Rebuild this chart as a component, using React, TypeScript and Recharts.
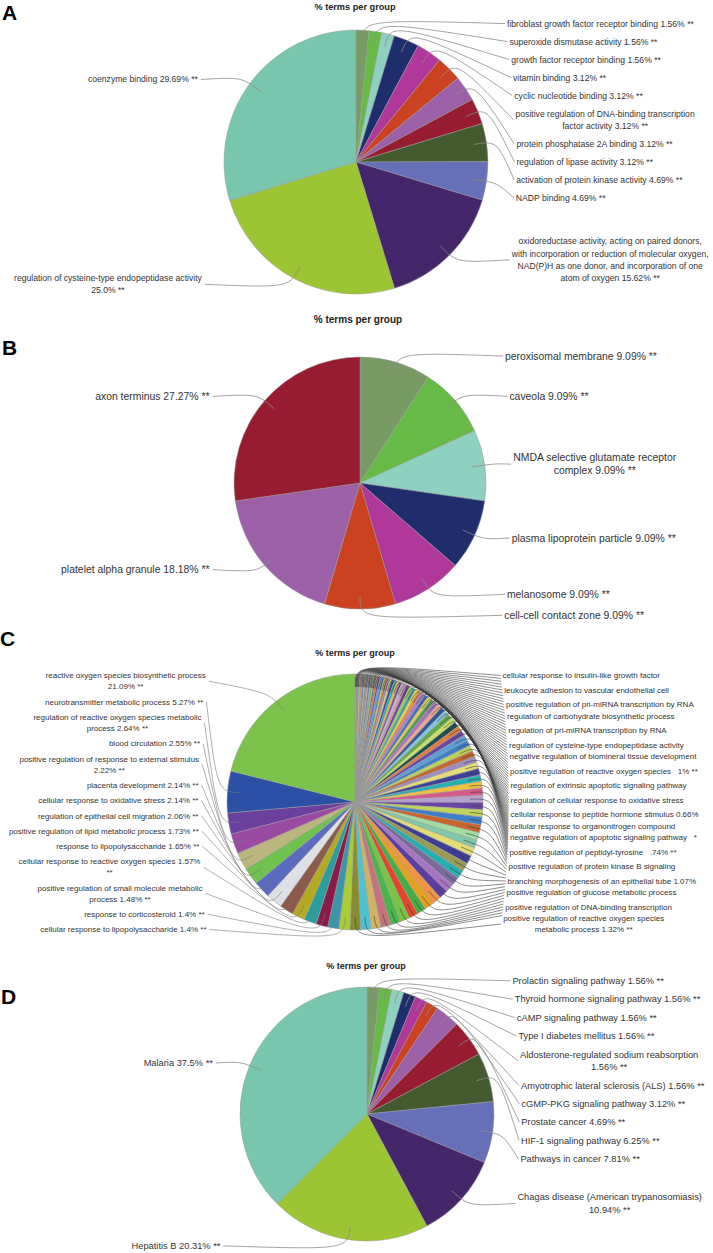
import React from 'react';
import { PieChart, Pie, Cell } from 'recharts';

const FONT = '"Liberation Sans", Arial, Helvetica, sans-serif';
const RAD = Math.PI / 180;

// ---- panel A: molecular function ----
const A_LABELS = [
  'fibroblast growth factor receptor binding 1.56% **',
  'superoxide dismutase activity 1.56% **',
  'growth factor receptor binding 1.56% **',
  'vitamin binding 3.12% **',
  'cyclic nucleotide binding 3.12% **',
  'positive regulation of DNA-binding transcription\nfactor activity 3.12% **',
  'protein phosphatase 2A binding 3.12% **',
  'regulation of lipase activity 3.12% **',
  'activation of protein kinase activity 4.69% **',
  'NADP binding 4.69% **',
  'oxidoreductase activity, acting on paired donors,\nwith incorporation or reduction of molecular oxygen,\nNAD(P)H as one donor, and incorporation of one\natom of oxygen 15.62% **',
  'regulation of cysteine-type endopeptidase activity\n25.0% **',
  'coenzyme binding 29.69% **',
];
const A_VALUES = [1.56, 1.56, 1.56, 3.12, 3.12, 3.12, 3.12, 3.12, 4.69, 4.69, 15.62, 25.0, 29.69];

// ---- panel B: cellular component ----
const B_LABELS = [
  'peroxisomal membrane 9.09% **',
  'caveola 9.09% **',
  'NMDA selective glutamate receptor\ncomplex 9.09% **',
  'plasma lipoprotein particle 9.09% **',
  'melanosome 9.09% **',
  'cell-cell contact zone 9.09% **',
  'platelet alpha granule 18.18% **',
  'axon terminus 27.27% **',
];
const B_VALUES = [9.09, 9.09, 9.09, 9.09, 9.09, 9.09, 18.18, 27.27];

// ---- panel C: biological process (right half = many small terms) ----
const C_RIGHT_VALUES = [
  0.08, 0.08, 0.08, 0.08, 0.08,
  0.16, 0.16, 0.16, 0.16, 0.16, 0.16, 0.16, 0.16, 0.16, 0.16, 0.16, 0.16, 0.16, 0.16,
  0.25, 0.25, 0.25, 0.25, 0.25, 0.25, 0.25, 0.25,
  0.33, 0.33, 0.33, 0.33, 0.33, 0.33,
  0.41, 0.41, 0.41, 0.41, 0.41,
  0.49, 0.49, 0.49, 0.49,
  0.58, 0.58, 0.58, 0.58,
  0.66, 0.66, 0.66, 0.66, 0.66,
  0.74, 0.74, 0.74, 0.74, 0.74,
  0.82, 0.82, 0.82, 0.82,
  0.91, 0.91, 0.91, 0.91,
  0.99, 0.99, 0.99, 0.99,
  1.07, 1.07, 1.07, 1.07, 1.07, 1.07,
  1.15, 1.15, 1.15, 1.15, 1.15,
  1.24, 1.24, 1.24, 1.24,
  1.32, 1.32,
];
// only these right-hand labels are readable in the figure (the rest overlap)
const C_RIGHT_VISIBLE: [number, string][] = [
  [0, 'cellular response to insulin-like growth factor'],
  [5, 'leukocyte adhesion to vascular endothelial cell'],
  [10, 'positive regulation of pri-miRNA transcription by RNA'],
  [14, 'regulation of carbohydrate biosynthetic process'],
  [19, 'regulation of pri-miRNA transcription by RNA'],
  [24, 'regulation of cysteine-type endopeptidase activity'],
  [28, 'negative regulation of biomineral tissue development'],
  [33, 'positive regulation of reactive oxygen species \u00a0\u00a01% **'],
  [38, 'regulation of extrinsic apoptotic signaling pathway'],
  [43, 'regulation of cellular response to oxidative stress'],
  [48, 'cellular response to peptide hormone stimulus 0.66%'],
  [52, 'cellular response to organonitrogen compound'],
  [56, 'negative regulation of apoptotic signaling pathway \u00a0\u00a0*'],
  [61, 'positive regulation of peptidyl-tyrosine \u00a0\u00a0.74% **'],
  [66, 'positive regulation of protein kinase B signaling'],
  [71, 'branching morphogenesis of an epithelial tube 1.07%'],
  [75, 'positive regulation of glucose metabolic process'],
  [80, 'positive regulation of DNA-binding transcription'],
  [84, 'positive regulation of reactive oxygen species\nmetabolic process 1.32% **'],
];
const C_LEFT_LABELS = [
  'cellular response to lipopolysaccharide 1.4% **',
  'response to corticosteroid 1.4% **',
  'positive regulation of small molecule metabolic\nprocess 1.48% **',
  'cellular response to reactive oxygen species 1.57%\n**',
  'response to lipopolysaccharide 1.65% **',
  'positive regulation of lipid metabolic process 1.73% **',
  'regulation of epithelial cell migration 2.06% **',
  'cellular response to oxidative stress 2.14% **',
  'placenta development 2.14% **',
  'positive regulation of response to external stimulus\n2.22% **',
  'blood circulation 2.55% **',
  'regulation of reactive oxygen species metabolic\nprocess 2.64% **',
  'neurotransmitter metabolic process 5.27% **',
  'reactive oxygen species biosynthetic process\n21.09% **',
];
const C_LEFT_VALUES = [1.4, 1.4, 1.48, 1.57, 1.65, 1.73, 2.06, 2.14, 2.14, 2.22, 2.55, 2.64, 5.27, 21.09];

// ---- panel D: KEGG ----
const D_LABELS = [
  'Prolactin signaling pathway 1.56% **',
  'Thyroid hormone signaling pathway 1.56% **',
  'cAMP signaling pathway 1.56% **',
  'Type I diabetes mellitus 1.56% **',
  'Aldosterone-regulated sodium reabsorption\n1.56% **',
  'Amyotrophic lateral sclerosis (ALS) 1.56% **',
  'cGMP-PKG signaling pathway 3.12% **',
  'Prostate cancer 4.69% **',
  'HIF-1 signaling pathway 6.25% **',
  'Pathways in cancer 7.81% **',
  'Chagas disease (American trypanosomiasis)\n10.94% **',
  'Hepatitis B 20.31% **',
  'Malaria 37.5% **',
];
const D_VALUES = [1.56, 1.56, 1.56, 1.56, 1.56, 1.56, 3.12, 4.69, 6.25, 7.81, 10.94, 20.31, 37.5];

// ClueGO group colours
const GROUP_COLORS = [
  '#789a64', '#67ba45', '#8fd1c1', '#1f2d6c', '#b0389a', '#cc4220', '#9b60a7',
  '#981c30', '#445a2f', '#6670b8', '#46266b', '#9bc532', '#78c6ae',
];
const C_TOP_COLORS = [
  '#8b4f9e', '#c9c0d8', '#e58fb0', '#6a3f98', '#9ccf5c', '#3ba7a0', '#e8d64c', '#e98a3c',
  '#b47ec6', '#4d6cc0', '#d9cd55', '#4f9b52', '#a874c2', '#f3a38f', '#2e5c9c', '#82c3e2',
  '#64aa45', '#c7df66', '#1e4e50', '#e27c3a', '#6b46a6', '#5aa0d8', '#3f80c8', '#bcd25a',
  '#c86530', '#9c8cc0', '#e6dc78', '#40409a', '#27b1b0', '#f0c040',
];
const C_LOW_COLORS = [
  '#d45a8a', '#b7a0d0', '#6a45a4', '#bfd45a', '#3e7fc7', '#c8642e', '#a3dba0', '#7fc8a8',
  '#e4dc74', '#3d3d96', '#9a9a52', '#24b0b0', '#7a6a9c', '#a874c4', '#5a3fa0', '#f09442',
  '#e6a21f', '#46ad46', '#e2452a', '#78c443', '#4bb54b', '#c7707e', '#d1b262', '#4cc2d2',
  '#8a8c34',
];
const C_LEFT_COLORS = [
  '#a9cb35', '#3a96a8', '#8b1a4a', '#2a9d9d', '#b3aa22', '#8c5a4a', '#dde1e5',
  '#5a6bc0', '#6fc150', '#bab67e', '#9a4aa2', '#6b3f9e', '#2b50a6', '#7dc24b',
];

const cRightNames = C_RIGHT_VALUES.map(() => '');
for (const [i, t] of C_RIGHT_VISIBLE) cRightNames[i] = t;

type PanelSpec = {
  top: number; height: number; cx: number; cy: number; r: number;
  values: number[]; labels: string[]; colors: string[];
  fs: number; lh: number; gap: number; bandTop: number; bandBottom: number;
  lineR: string; lineL: string; lineW: number;
};

type Slot = { y: number; h: number; right: boolean; lines: string[]; end: number };

let ctx: CanvasRenderingContext2D | null = null;
function textWidth(s: string, fs: number) {
  if (!ctx) ctx = document.createElement('canvas').getContext('2d');
  if (!ctx) return s.length * fs * 0.5;
  ctx.font = `${fs}px ${FONT}`;
  return ctx.measureText(s).width;
}

// stack labels in a column, pushing them apart; spread them if they can't fit
function distribute(list: Slot[], top: number, bottom: number, gap: number) {
  if (!list.length) return;
  let prev: Slot | null = null;
  for (const it of list) {
    const min = prev ? prev.y + prev.h / 2 + gap + it.h / 2 : top + it.h / 2;
    it.y = Math.max(it.y, min);
    prev = it;
  }
  const last = list[list.length - 1];
  if (last.y + last.h / 2 <= bottom) return;
  last.y = bottom - last.h / 2;
  for (let k = list.length - 2; k >= 0; k--) {
    const nx = list[k + 1];
    list[k].y = Math.min(list[k].y, nx.y - nx.h / 2 - gap - list[k].h / 2);
  }
  if (list[0].y - list[0].h / 2 >= top - 0.5) return;
  const sumH = list.reduce((s, it) => s + it.h, 0);
  const g = list.length > 1 ? (bottom - top - sumH) / (list.length - 1) : 0;
  let y = top;
  for (const it of list) {
    y += it.h / 2;
    it.y = y;
    y += it.h / 2 + g;
  }
}

function layoutLabels(p: PanelSpec): Slot[] {
  const total = p.values.reduce((s, v) => s + v, 0);
  let cum = 0;
  const slots: Slot[] = p.values.map((v, i) => {
    const theta = ((cum + v / 2) / total) * 360;
    cum += v;
    const lines = (p.labels[i] ?? '').split('\n');
    return {
      y: p.cy - 1.05 * p.r * Math.cos(theta * RAD),
      h: lines.length * p.lh,
      right: theta <= 180.5,
      lines,
      end: 0,
    };
  });
  for (const side of [true, false]) {
    const list = slots.filter((s) => s.right === side).sort((a, b) => a.y - b.y);
    distribute(list, p.bandTop, p.bandBottom, p.gap);
  }
  for (const s of slots) {
    const k = (s.y - p.cy) / (3.1 * p.r);
    const dx = 1.2 * p.r * Math.sqrt(Math.max(0.3, 1 - k * k));
    s.end = s.right ? p.cx + dx : p.cx - dx;
  }
  return slots;
}

function makeLabel(p: PanelSpec, slots: Slot[]) {
  return (props: any) => {
    const s = slots[props.index];
    if (!s) return null;
    const cx = props.cx ?? p.cx;
    const cy = props.cy ?? p.cy;
    const R = props.outerRadius ?? p.r;
    const a = -props.midAngle * RAD;
    const x0 = cx + R * 0.9 * Math.cos(a);
    const y0 = cy + R * 0.9 * Math.sin(a);
    const x1 = cx + R * 1.08 * Math.cos(a);
    const y1 = cy + R * 1.08 * Math.sin(a);
    const hasText = s.lines.some((l) => l.length > 0);
    const w = hasText ? Math.max(...s.lines.map((l) => textWidth(l, p.fs))) : 0;
    const mid = s.right ? s.end + 2 + w / 2 : s.end - 3 - w / 2;
    return (
      <g key={`lab-${props.index}`}>
        <path
          d={`M${x0},${y0}C${x1},${y1} ${x1},${y1} ${s.end},${s.y}`}
          fill="none"
          stroke={s.right ? p.lineR : p.lineL}
          strokeWidth={p.lineW}
        />
        {hasText &&
          s.lines.map((l, j) => (
            <text
              key={j}
              x={mid}
              y={s.y + (j - (s.lines.length - 1) / 2) * p.lh + p.fs * 0.35}
              textAnchor="middle"
              fontSize={p.fs}
              fontFamily={FONT}
              fill="#333"
            >
              {l}
            </text>
          ))}
      </g>
    );
  };
}

function PanelChart({ p }: { p: PanelSpec }) {
  const slots = layoutLabels(p);
  const data = p.values.map((v, i) => ({ name: p.labels[i] || `term ${i + 1}`, value: v }));
  return (
    <div style={{ position: 'absolute', left: 0, top: p.top, width: 713, height: p.height }}>
      <PieChart width={713} height={p.height} margin={{ top: 0, right: 0, bottom: 0, left: 0 }}>
        <Pie
          data={data}
          dataKey="value"
          nameKey="name"
          cx={p.cx}
          cy={p.cy}
          outerRadius={p.r}
          startAngle={90}
          endAngle={-270}
          stroke="#9a9a9a"
          strokeWidth={0.5}
          label={makeLabel(p, slots)}
          labelLine={false}
          isAnimationActive={false}
        >
          {data.map((d, i) => (
            <Cell key={i} fill={p.colors[i % p.colors.length]} />
          ))}
        </Pie>
      </PieChart>
    </div>
  );
}

const PANEL_A: PanelSpec = {
  top: 0, height: 300, cx: 356, cy: 162, r: 132,
  values: A_VALUES, labels: A_LABELS, colors: GROUP_COLORS,
  fs: 8.6, lh: 12.3, gap: 5.7, bandTop: 10, bandBottom: 300,
  lineR: '#8c8c8c', lineL: '#8c8c8c', lineW: 0.8,
};
const PANEL_B: PanelSpec = {
  top: 300, height: 330, cx: 360, cy: 183, r: 126,
  values: B_VALUES, labels: B_LABELS, colors: GROUP_COLORS,
  fs: 10.4, lh: 13, gap: 6, bandTop: 30, bandBottom: 330,
  lineR: '#8c8c8c', lineL: '#8c8c8c', lineW: 0.8,
};
const PANEL_C: PanelSpec = {
  top: 630, height: 320, cx: 355, cy: 172, r: 128,
  values: [...C_RIGHT_VALUES, ...C_LEFT_VALUES],
  labels: [...cRightNames, ...C_LEFT_LABELS],
  colors: [...C_TOP_COLORS, ...C_TOP_COLORS, ...C_LOW_COLORS, ...C_LEFT_COLORS],
  fs: 8, lh: 11, gap: 4.3, bandTop: 40, bandBottom: 305,
  lineR: '#3c3c3c', lineL: '#7a7a7a', lineW: 0.6,
};
const PANEL_D: PanelSpec = {
  top: 950, height: 303, cx: 367, cy: 164, r: 127,
  values: D_VALUES, labels: D_LABELS, colors: GROUP_COLORS,
  fs: 9.3, lh: 12.6, gap: 5.8, bandTop: 20, bandBottom: 303,
  lineR: '#8c8c8c', lineL: '#8c8c8c', lineW: 0.8,
};

const TITLES = [
  { x: 355, y: 6.5, fs: 9.2 },
  { x: 358, y: 319.3, fs: 10 },
  { x: 355, y: 652.7, fs: 9 },
  { x: 366, y: 965.7, fs: 9 },
];
const LETTERS = [
  { t: 'A', x: 2, y: 20 },
  { t: 'B', x: 2, y: 355 },
  { t: 'C', x: 0, y: 646 },
  { t: 'D', x: 1, y: 1004 },
];

export default function App() {
  return (
    <div style={{ position: 'absolute', left: 0, top: 0, width: 713, height: 1253, background: '#fff', overflow: 'hidden' }}>
      <PanelChart p={PANEL_A} />
      <PanelChart p={PANEL_B} />
      <PanelChart p={PANEL_C} />
      <PanelChart p={PANEL_D} />
      <svg width={713} height={1253} style={{ position: 'absolute', left: 0, top: 0, pointerEvents: 'none' }}>
        {TITLES.map((t, i) => (
          <text key={i} x={t.x} y={t.y + t.fs * 0.35} textAnchor="middle" fontSize={t.fs} fontWeight="bold" fontFamily={FONT} fill="#222">
            % terms per group
          </text>
        ))}
        {LETTERS.map((l) => (
          <text key={l.t} x={l.x} y={l.y} fontSize={21} fontWeight="bold" fontFamily={FONT} fill="#000">
            {l.t}
          </text>
        ))}
      </svg>
    </div>
  );
}
